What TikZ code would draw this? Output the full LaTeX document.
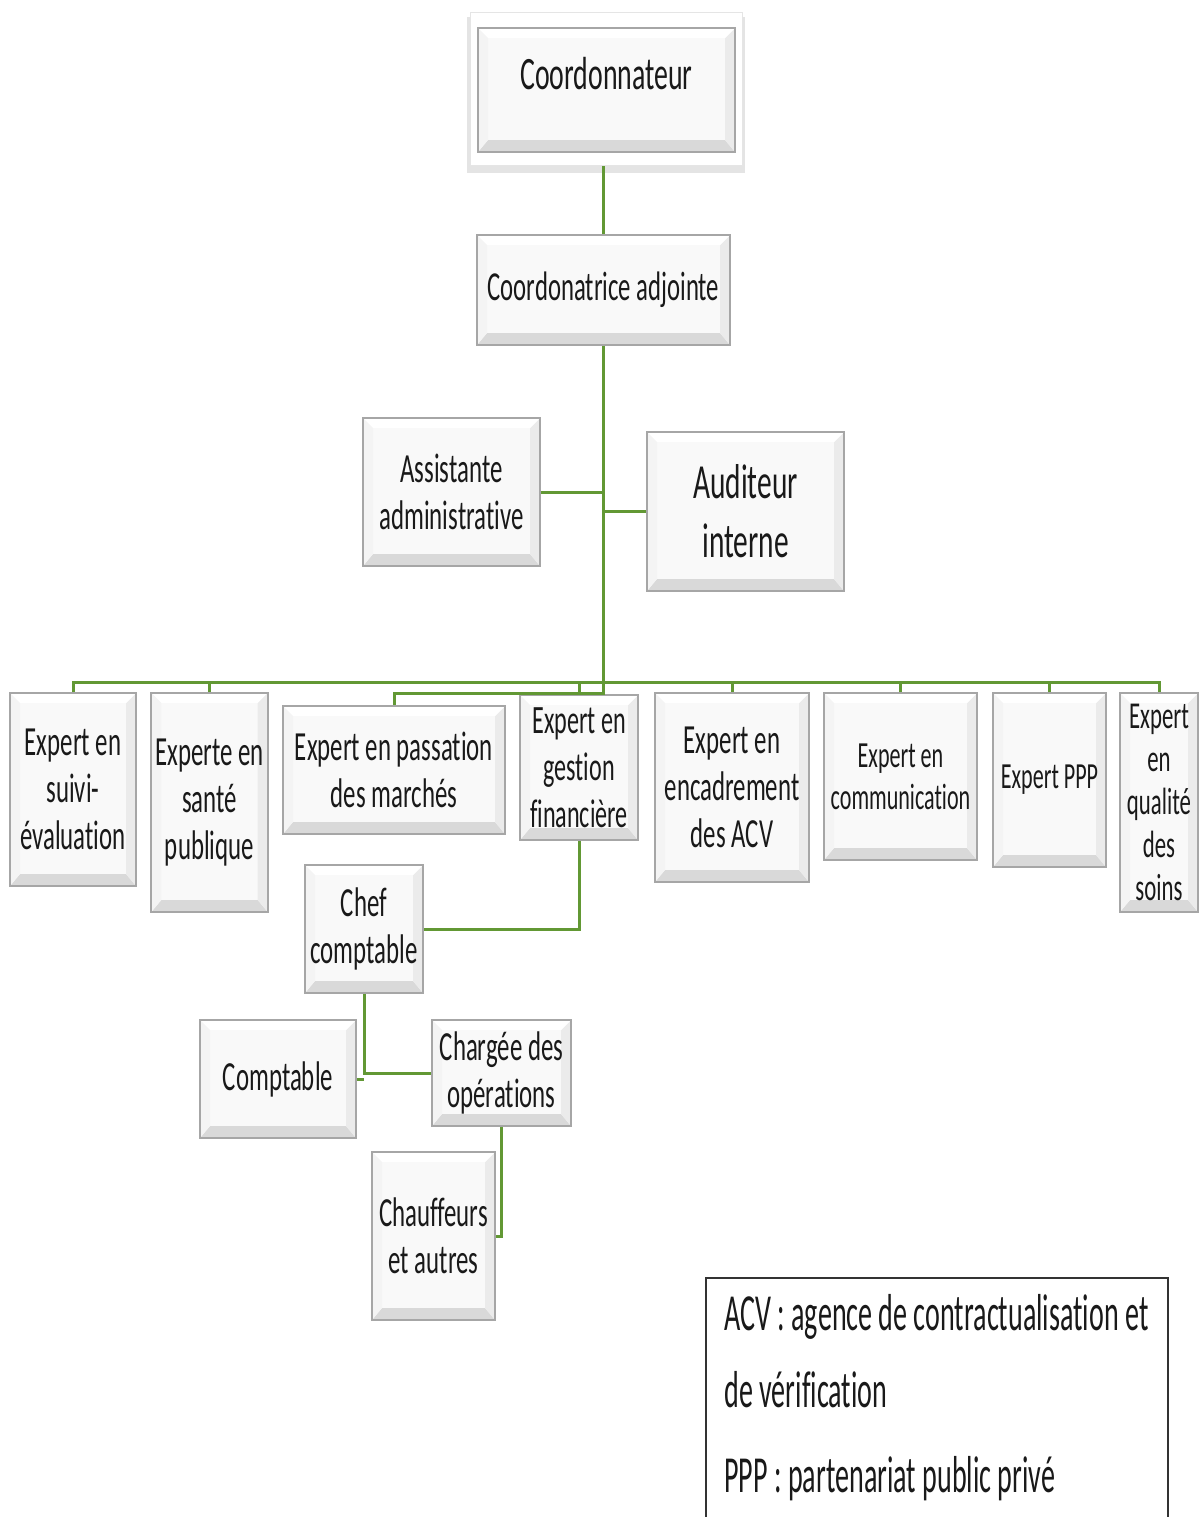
\documentclass[tikz,border=0pt]{standalone}
\usepackage{fontspec}
\setmainfont{Carlito}[FakeStretch=0.6, Ligatures=NoCommon]
\newfontfamily\legendefont{Carlito}[FakeStretch=0.54, Ligatures=NoCommon]
\usetikzlibrary{calc, shadows}
\definecolor{vert}{RGB}{98,152,52}

\begin{document}
\begin{tikzpicture}[x=0.5pt, y=-0.5pt,
    poste/.style={draw=gray!70, line width=0.9pt, fill=gray!5, align=center, inner sep=2pt,
      text=black!90, font=\fontsize{20.7}{23.5}\selectfont,
      path picture={
        \path (path picture bounding box.south west) coordinate (pb-sw)
              (path picture bounding box.north east) coordinate (pb-ne);
        \fill[gray!30] (pb-sw) -- ++(5pt,6pt) -- ($(pb-sw -| pb-ne)+(-5pt,6pt)$) -- (pb-sw -| pb-ne) -- cycle;
        \fill[gray!16] (pb-sw -| pb-ne) -- ++(-5pt,6pt) -- ($(pb-ne)+(-5pt,-5pt)$) -- (pb-ne) -- cycle;
        \fill[white] (pb-ne) -- ++(-5pt,-5pt) -- ($(pb-sw |- pb-ne)+(5pt,-5pt)$) -- (pb-sw |- pb-ne) -- cycle;
        \fill[gray!9] (pb-sw |- pb-ne) -- ++(5pt,-5pt) -- ($(pb-sw)+(5pt,6pt)$) -- (pb-sw) -- cycle;
      }},
    cadre/.style={fill=white, draw=gray!20, line width=0.5pt,
      general shadow={fill=gray!60, opacity=0.35, shadow scale=1.02, shadow yshift=-3pt}},
    lien/.style={draw=vert, line width=1.5pt},
    legende/.style={inner sep=0pt, text=black!90, font=\legendefont\fontsize{26}{30}\selectfont}]

  \useasboundingbox (0,0) rectangle (1200,1517);

  % tete
  \node[cadre, minimum width=136pt, minimum height=76.5pt] (cadre) at (606,88.5) {};
  \node[poste, minimum width=128.5pt, minimum height=62pt, font=\fontsize{23.2}{26}\selectfont,
        text height=15pt, text depth=16pt] (coord) at (606.5,90) {Coordonnateur};
  \node[poste, minimum width=126.5pt, minimum height=55pt, font=\fontsize{20.6}{23.5}\selectfont] (adjointe) at (603.5,290) {Coordonatrice adjointe};
  \node[poste, minimum width=88.5pt, minimum height=74pt] (assistante) at (451.5,492) {Assistante\\administrative};
  \node[poste, minimum width=98.5pt, minimum height=79.5pt, font=\fontsize{24.5}{29.5}\selectfont] (auditeur) at (745.5,511.5) {Auditeur\\interne};

  % experts
  \node[poste, minimum width=63pt, minimum height=96.5pt] (suivi) at (73,789.5) {Expert en\\suivi-\\évaluation};
  \node[poste, minimum width=57.5pt, minimum height=109.5pt] (sante) at (209.5,802.5) {Experte en\\santé\\publique};
  \node[poste, minimum width=111pt, minimum height=64pt] (passation) at (394,770) {Expert en passation\\des marchés};
  \node[poste, minimum width=59pt, minimum height=72.5pt, font=\fontsize{20.1}{23.5}\selectfont] (gestion) at (579,767.5) {Expert en\\gestion\\financière};
  \node[poste, minimum width=77pt, minimum height=94.5pt] (encadrement) at (732,787.5) {Expert en\\encadrement\\des ACV};
  \node[poste, minimum width=76.5pt, minimum height=83.5pt, font=\fontsize{18.4}{21}\selectfont] (communication) at (900.5,776.5) {Expert en\\communication};
  \node[poste, minimum width=56.5pt, minimum height=87pt, font=\fontsize{18.4}{21}\selectfont] (ppp) at (1049.5,780) {Expert PPP};
  \node[poste, minimum width=39pt, minimum height=109.5pt, inner sep=1pt, font=\fontsize{19}{21.5}\selectfont] (qualite) at (1159,802.5) {Expert\\en\\qualité\\des\\soins};

  % comptabilite
  \node[poste, minimum width=59pt, minimum height=64pt] (chef) at (364,929) {Chef\\comptable};
  \node[poste, minimum width=78pt, minimum height=59pt] (comptable) at (278,1079) {Comptable};
  \node[poste, minimum width=69.5pt, minimum height=53pt] (chargee) at (501.5,1073) {Chargée des\\opérations};
  \node[poste, minimum width=61.5pt, minimum height=84pt] (chauffeurs) at (433.5,1236) {Chauffeurs\\et autres};

  \coordinate (bus1) at (603.5,682);
  \coordinate (bus2) at (603.5,693);

  \draw[lien] (adjointe.north) -- (adjointe.north |- cadre.south);
  \draw[lien] (adjointe.south) -- (bus2) -| (passation.north);
  \draw[lien] (assistante.east) -- (assistante.east -| adjointe.south);
  \draw[lien] (auditeur.west) -- (auditeur.west -| adjointe.south);
  \draw[lien] (suivi.north) |- (bus1) -| (qualite.north);
  \foreach \expert in {sante, gestion, encadrement, communication, ppp}
    \draw[lien] (\expert.north) -- (\expert.north |- bus1);
  \draw[lien] (gestion.south) |- (chef.east);
  \draw[lien] (chef.south) |- (chargee.west);
  \draw[lien] (comptable.east) -- (comptable.east -| chef.south);
  \draw[lien] (chargee.south) |- (chauffeurs.east);

  % legende
  \draw[black!80, line width=1pt] (706,1517) |- (1168,1278) -- (1168,1517);
  \node[legende, anchor=base west] (acv) at (724,1330) {ACV : agence de contractualisation et};
  \node[legende, anchor=base west] (verif) at (724,1407) {de vérification};
  \node[legende, anchor=base west] (ppplegende) at (724,1492) {PPP : partenariat public privé};
\end{tikzpicture}
\end{document}
